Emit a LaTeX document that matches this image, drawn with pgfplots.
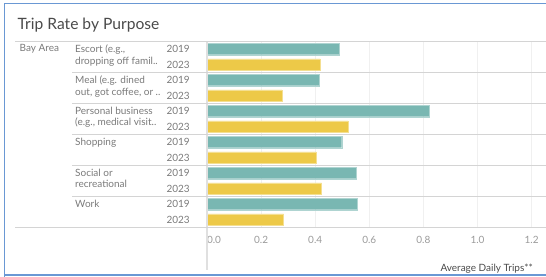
\documentclass[border=0pt]{standalone}
\usepackage{pgfplots}
\pgfplotsset{compat=1.18}
\usepackage{fontspec}
\setmainfont{Lato}
\definecolor{teal19}{HTML}{79B7B2}
\definecolor{yel23}{HTML}{EDC948}
\definecolor{sep}{HTML}{D4D4D4}
\definecolor{lab}{HTML}{7A7A7A}
\definecolor{ticklab}{HTML}{9A9A9A}
\definecolor{dark}{HTML}{4A4A4A}
\definecolor{frame}{HTML}{6A98D4}
\begin{document}
\begin{tikzpicture}
\useasboundingbox (0pt,0pt) rectangle (546pt,276pt);
\begin{axis}[
  at={(207pt,48.7pt)}, anchor=south west,
  scale only axis, width=339pt, height=186pt,
  xmin=0, xmax=1.2532, ymin=-0.5, ymax=11.5, y dir=reverse,
  axis line style={draw=none},
  xtick={0,0.2,0.4,0.6,0.8,1.0,1.2},
  xticklabels={\makebox[0pt][l]{0.0},0.2,0.4,0.6,0.8,1.0,1.2},
  xmajorgrids, grid style={draw=black!6, line width=0.8pt},
  major tick length=0pt,
  ytick={0,...,11},
  yticklabels={2019,2023,2019,2023,2019,2023,2019,2023,2019,2023,2019,2023},
  tick label style={font=\fontsize{10}{11}\selectfont, text=lab},
  yticklabel style={anchor=west, xshift=-44pt},
  xticklabel style={yshift=-5pt, text=ticklab},
  xbar, bar shift=0pt, bar width=0.73,
  clip=false,
]
\addplot[fill=teal19, draw=teal19!60!white, line width=0.4pt] coordinates {(0.488,0) (0.414,2) (0.823,4) (0.498,6) (0.552,8) (0.554,10)};
\addplot[fill=yel23, draw=yel23!60!white, line width=0.4pt] coordinates {(0.418,1) (0.277,3) (0.522,5) (0.403,7) (0.424,9) (0.283,11)};
\end{axis}
\begin{scope}[x=1pt, y=-1pt, yshift=276pt]
% frame
\draw[frame, line width=1.6pt] (4.6,277) -- (4.6,3.6) -- (547,3.6);
\draw[frame, line width=1.6pt] (4.6,275) -- (547,275);
% title
\node[anchor=west, inner sep=0pt, text=dark, font=\fontsize{15.6}{17}\selectfont] at (17.5,25) {Trip Rate by Purpose};
% zero line
\draw[black!12, line width=1.4pt] (207,41) -- (207,270);
% separators
\draw[sep, line width=0.9pt] (15,41) -- (546,41);
\draw[sep, line width=0.9pt] (15,227.3) -- (546,227.3);
\foreach \yy in {72.3,103.3,134.3,165.3,196.3} {
  \draw[sep, line width=0.9pt] (72,\yy) -- (546,\yy);
}
% row labels
\begin{scope}[every node/.style={anchor=north west, inner sep=0pt, text=lab, align=left, font=\fontsize{10}{11.7}\selectfont}]
\node at (19.5,44.5) {Bay Area};
\node at (75,44.5) {Escort (e.g.,\\dropping off famil..};
\node at (75,75.5) {Meal (e.g. dined\\out, got coffee, or ..};
\node at (75,106.5) {Personal business\\(e.g., medical visit..};
\node at (75,137.5) {Shopping};
\node at (75,168.5) {Social or\\recreational};
\node at (75,199.5) {Work};
\end{scope}
\node[anchor=east, inner sep=0pt, text=dark, font=\fontsize{10}{11}\selectfont] at (533,269) {Average Daily Trips**};
\end{scope}
\end{tikzpicture}
\end{document}
